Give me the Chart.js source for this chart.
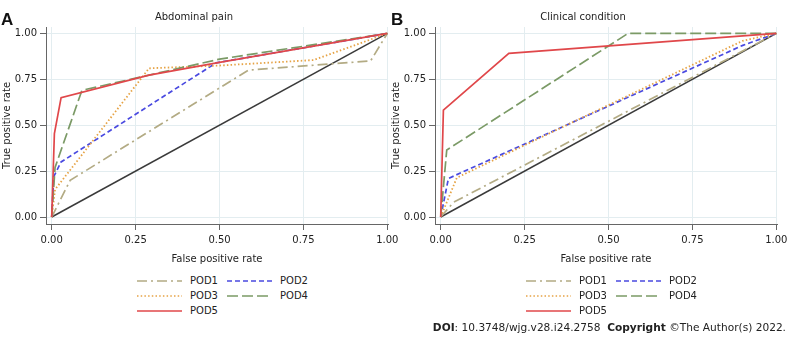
<!DOCTYPE html>
<html>
<head>
<meta charset="utf-8">
<script src="https://cdn.jsdelivr.net/npm/chart.js@4.4.0/dist/chart.umd.min.js"></script>
<style>
    body { margin: 0; width: 788px; height: 340px; position: relative; overflow: hidden; background: #fff; font-family: "DejaVu Sans", sans-serif; color: #222; }
    canvas { position: absolute; top: 0; }
    .tag { position: absolute; top: 10px; font: bold 17px "Liberation Sans", Arial, sans-serif; color: #111; }
    .leg { position: absolute; height: 12px; font-size: 10px; line-height: 12px; white-space: nowrap; }
    .leg svg { position: absolute; left: 0; top: 0; }
    .leg span { position: absolute; top: 0; }
    .doi { position: absolute; right: 2px; top: 320px; font-size: 10.6px; line-height: 14px; color: #222; white-space: nowrap; }
</style>
</head>
<body>
<canvas id="chartA" width="400" height="270" style="left:0"></canvas>
<canvas id="chartB" width="399" height="270" style="left:389px"></canvas>
<div class="tag" style="left:1px">A</div>
<div class="tag" style="left:391px">B</div>
<div id="legends"></div>
<div class="doi"><b>DOI</b>: 10.3748/wjg.v28.i24.2758 &nbsp;<b>Copyright</b> ©The Author(s) 2022.</div>

<script>
// tick labels shared by both panels
const xTicks = [0, 0.25, 0.5, 0.75, 1];
const yTicks = [0, 0.25, 0.5, 0.75, 1];

const seriesNames = ["POD1", "POD2", "POD3", "POD4", "POD5"];

// Panel A - Abdominal pain (false positive rate / true positive rate)
const pod1A_x = [0, 0.055, 0.586, 0.95, 1];
const pod1A_y = [0, 0.20, 0.80, 0.85, 1];
const pod2A_x = [0, 0.006, 0.028, 0.49, 1];
const pod2A_y = [0, 0.22, 0.30, 0.84, 1];
const pod3A_x = [0, 0.01, 0.29, 0.5, 0.78, 1];
const pod3A_y = [0, 0.15, 0.81, 0.825, 0.855, 1];
const pod4A_x = [0, 0.01, 0.09, 0.5, 1];
const pod4A_y = [0, 0.27, 0.69, 0.86, 1];
const pod5A_x = [0, 0.008, 0.028, 0.29, 0.5, 1];
const pod5A_y = [0, 0.455, 0.65, 0.773, 0.842, 1];

// Panel B - Clinical condition
const pod1B_x = [0, 0.038, 1];
const pod1B_y = [0, 0.08, 1];
const pod2B_x = [0, 0.023, 0.9, 1];
const pod2B_y = [0, 0.21, 0.935, 1];
const pod3B_x = [0, 0.048, 0.9, 1];
const pod3B_y = [0, 0.214, 0.96, 1];
const pod4B_x = [0, 0.018, 0.558, 1];
const pod4B_y = [0, 0.365, 1, 1];
const pod5B_x = [0, 0.008, 0.203, 1];
const pod5B_y = [0, 0.582, 0.891, 1];

// reference line
const diag_x = [0, 1];
const diag_y = [0, 1];

const colors = ["#b3ab84", "#4a4ae0", "#e6a345", "#7b9a66", "#e0474a"];
const dashes = [[10, 4, 2, 4], [5, 3], [1.5, 2.2], [11, 4], []];

function points(xs, ys) {
    return xs.map((x, i) => ({ x: x, y: ys[i] }));
}

function makePanel(id, title, curves) {
    const datasets = curves.map((c, i) => ({
        label: seriesNames[i],
        data: points(c[0], c[1]),
        borderColor: colors[i],
        borderDash: dashes[i],
        borderWidth: i === 2 ? 1.8 : 1.7,
        order: 5 - i
    }));
    datasets.push({
        label: "ref",
        data: points(diag_x, diag_y),
        borderColor: "#3a3a3a",
        borderWidth: 1.5,
        order: 10
    });

    const canvas = document.getElementById(id);
    const canvasH = canvas.height;

    new Chart(canvas, {
        type: "scatter",
        data: { datasets: datasets },
        options: {
            responsive: false,
            animation: false,
            showLine: true,
            elements: { point: { radius: 0 }, line: { tension: 0 } },
            layout: { padding: { left: 0, top: 0, right: canvas.width - 388, bottom: 0 } },
            plugins: {
                legend: { display: false },
                tooltip: { enabled: false },
                title: {
                    display: true,
                    text: title,
                    color: "#222",
                    font: { family: "DejaVu Sans", size: 10, weight: "normal" },
                    padding: { top: 11, bottom: 4 }
                }
            },
            scales: {
                x: {
                    type: "linear",
                    min: -0.017,
                    max: 1.002,
                    afterBuildTicks: (s) => { s.ticks = xTicks.map(v => ({ value: v })); },
                    afterFit: (s) => { s.height = canvasH - 224; s.paddingLeft = 0; s.paddingRight = 0; },
                    ticks: {
                        callback: (v) => v.toFixed(2),
                        color: "#222",
                        padding: 4,
                        maxRotation: 0,
                        font: { family: "DejaVu Sans", size: 10 }
                    },
                    grid: { color: "#e3edf0", tickColor: "#666", tickLength: 6 },
                    border: { display: true, color: "#666", width: 1 },
                    title: {
                        display: true,
                        text: "False positive rate",
                        color: "#222",
                        font: { family: "DejaVu Sans", size: 10 },
                        padding: { top: 0, bottom: 5 }
                    }
                },
                y: {
                    type: "linear",
                    min: -0.038,
                    max: 1.035,
                    afterBuildTicks: (s) => { s.ticks = yTicks.map(v => ({ value: v })); },
                    afterFit: (s) => { s.width = 46; s.paddingTop = 0; s.paddingBottom = 0; },
                    ticks: {
                        callback: (v) => v.toFixed(2),
                        color: "#222",
                        padding: 3,
                        font: { family: "DejaVu Sans", size: 10 }
                    },
                    grid: { color: "#e3edf0", tickColor: "#666", tickLength: 6 },
                    border: { display: true, color: "#666", width: 1 },
                    title: {
                        display: true,
                        text: "True positive rate",
                        color: "#222",
                        font: { family: "DejaVu Sans", size: 10 },
                        padding: { top: 1, bottom: 0 }
                    }
                }
            }
        }
    });
}

makePanel("chartA", "Abdominal pain", [
    [pod1A_x, pod1A_y], [pod2A_x, pod2A_y], [pod3A_x, pod3A_y], [pod4A_x, pod4A_y], [pod5A_x, pod5A_y]
]);
makePanel("chartB", "Clinical condition", [
    [pod1B_x, pod1B_y], [pod2B_x, pod2B_y], [pod3B_x, pod3B_y], [pod4B_x, pod4B_y], [pod5B_x, pod5B_y]
]);

// legends under each panel, two columns like the original
const legendSlots = [[137, 275], [227, 275], [137, 290], [227, 290], [137, 305]];
function buildLegend(offset) {
    const box = document.getElementById("legends");
    seriesNames.forEach((name, i) => {
        const item = document.createElement("div");
        item.className = "leg";
        item.style.left = (legendSlots[i][0] + offset) + "px";
        item.style.top = legendSlots[i][1] + "px";
        item.style.width = "90px";
        item.innerHTML =
            '<svg width="46" height="12"><line x1="0" y1="6" x2="45" y2="6" stroke="' + colors[i] +
            '" stroke-width="1.6" stroke-dasharray="' + (dashes[i].join(" ") || "none") + '"/></svg>' +
            '<span style="left:53px">' + name + "</span>";
        box.appendChild(item);
    });
}
buildLegend(0);
buildLegend(389);
</script>
</body>
</html>
